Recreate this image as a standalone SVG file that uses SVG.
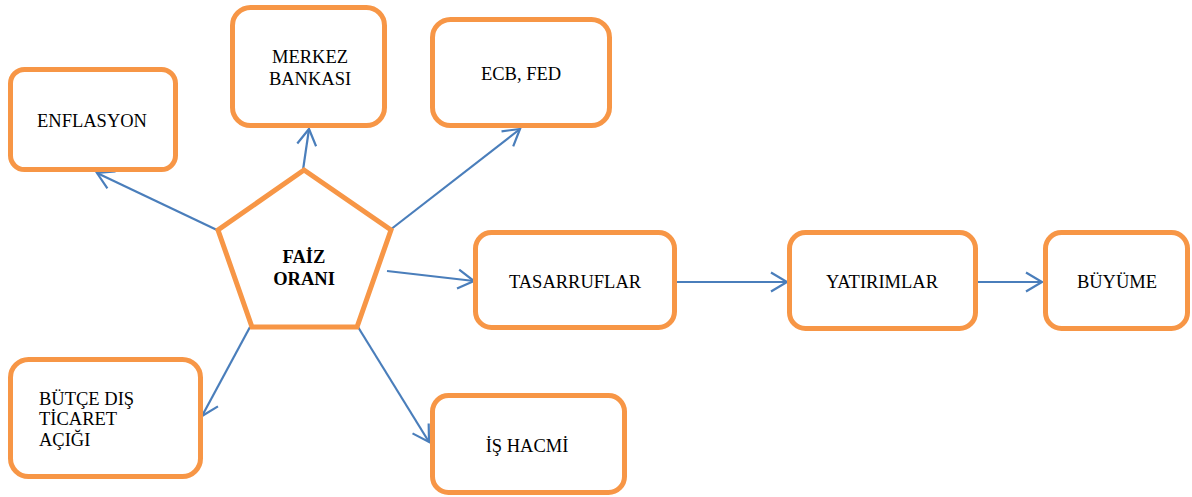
<svg xmlns="http://www.w3.org/2000/svg" width="1192" height="497" viewBox="0 0 1192 497">
<style>
.box{fill:#fff;stroke:#f79646;stroke-width:5}
.t{font-family:'Liberation Serif','Times New Roman','DejaVu Serif',serif;font-size:18.5px;fill:#000}
.c{text-anchor:middle}
.b{font-weight:bold}
.ln{stroke:#4a7ebb;stroke-width:2.2;fill:none;marker-end:url(#ah)}
</style>
<defs>
<marker id="ah" markerUnits="userSpaceOnUse" markerWidth="24" markerHeight="24" viewBox="-20 -12 24 24" refX="0" refY="0" orient="auto">
<path d="M-16,-9.5 L0,0 L-16,9.5" fill="none" stroke="#4a7ebb" stroke-width="2.2"/>
</marker>
</defs>
<rect width="1192" height="497" fill="#fff"/>
<g id="connectors">
<line class="ln" x1="217" y1="230" x2="97" y2="173"/>
<line class="ln" x1="303" y1="170" x2="309" y2="129"/>
<line class="ln" x1="390" y1="230" x2="520" y2="129"/>
<line class="ln" x1="387" y1="271" x2="474" y2="281"/>
<line class="ln" x1="677" y1="282" x2="787" y2="282"/>
<line class="ln" x1="977" y1="282" x2="1042" y2="282"/>
<line class="ln" x1="250" y1="327" x2="202" y2="416"/>
<line class="ln" x1="358" y1="327" x2="429" y2="442"/>
</g>
<g id="faiz">
<polygon class="box" points="304,170 391,230 357,327 252,327 218,230"/>
<text class="t c b" x="304" y="263">FAİZ</text>
<text class="t c b" x="304" y="285">ORANI</text>
</g>
<g id="enflasyon">
<rect class="box" x="10.5" y="69.5" width="165" height="100" rx="14"/>
<text class="t c" x="92" y="127">ENFLASYON</text>
</g>
<g id="merkez">
<rect class="box" x="232.5" y="7.5" width="152" height="118" rx="18"/>
<text class="t c" x="310" y="63">MERKEZ</text>
<text class="t c" x="310" y="85">BANKASI</text>
</g>
<g id="ecb">
<rect class="box" x="432.5" y="19.5" width="177" height="106" rx="18"/>
<text class="t c" x="521" y="80">ECB, FED</text>
</g>
<g id="tasarruflar">
<rect class="box" x="475.5" y="232.5" width="199" height="95" rx="16"/>
<text class="t c" x="575" y="288">TASARRUFLAR</text>
</g>
<g id="yatirimlar">
<rect class="box" x="789.5" y="232.5" width="186" height="96" rx="16"/>
<text class="t c" x="882" y="288">YATIRIMLAR</text>
</g>
<g id="buyume">
<rect class="box" x="1045.5" y="232.5" width="142" height="96" rx="16"/>
<text class="t c" x="1117" y="288">BÜYÜME</text>
</g>
<g id="butce">
<rect class="box" x="10.5" y="359.5" width="190" height="117" rx="18"/>
<text class="t" x="39" y="405">BÜTÇE DIŞ</text>
<text class="t" x="39" y="425">TİCARET</text>
<text class="t" x="39" y="446">AÇIĞI</text>
</g>
<g id="ishacmi">
<rect class="box" x="432.5" y="395.5" width="192" height="97" rx="16"/>
<text class="t c" x="527" y="452">İŞ HACMİ</text>
</g>
</svg>
